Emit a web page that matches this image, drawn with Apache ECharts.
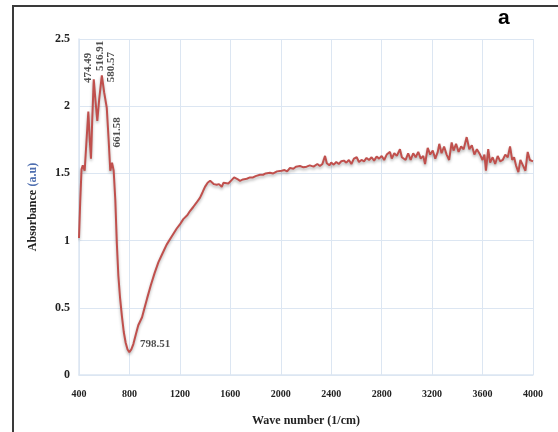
<!DOCTYPE html>
<html>
<head>
<meta charset="utf-8">
<script src="https://cdn.jsdelivr.net/npm/echarts@6/dist/echarts.min.js"></script>
<style>
html,body{margin:0;padding:0;background:#fff;}
#c{width:558px;height:432px;}
</style>
</head>
<body>
<div id="c"></div>
<script>
// Wavenumber (1/cm) and absorbance (a.u)
var wavenumbers = [400,410,420,430,445,460,474,485,495,505,517,530,545,560,581,600,620,635,648,662,675,688,700,712,725,740,755,770,785,799,815,831,850,870,885,900,920,940,970,1000,1030,1060,1095,1135,1175,1200,1227,1260,1280,1306,1330,1360,1380,1399,1420,1440,1455,1470,1492,1510,1532,1545,1560,1584,1610,1630,1645,1660,1677,1700,1730,1756,1780,1800,1835,1860,1880,1914,1940,1970,2007,2030,2050,2073,2100,2120,2152,2180,2205,2230,2260,2290,2310,2330,2351,2365,2385,2400,2420,2440,2460,2480,2500,2520,2540,2560,2580,2602,2620,2640,2660,2680,2700,2720,2740,2760,2780,2800,2820,2840,2866,2880,2900,2920,2945,2960,2975,2990,3010,3030,3050,3070,3090,3110,3130,3144,3165,3185,3205,3225,3245,3257,3275,3295,3315,3335,3355,3370,3390,3410,3430,3450,3474,3495,3515,3535,3555,3580,3600,3615,3627,3645,3660,3680,3700,3720,3740,3760,3780,3800,3818,3835,3850,3865,3884,3900,3920,3940,3958,3975,3990,4000];
var absorbance = [1.02,1.30,1.53,1.56,1.52,1.75,1.96,1.75,1.61,1.90,2.20,2.05,1.89,2.05,2.23,2.10,1.99,1.75,1.52,1.58,1.52,1.30,0.98,0.74,0.58,0.44,0.32,0.24,0.19,0.17,0.19,0.23,0.30,0.37,0.40,0.43,0.50,0.57,0.67,0.76,0.84,0.90,0.97,1.03,1.09,1.12,1.16,1.19,1.22,1.25,1.28,1.32,1.36,1.40,1.43,1.445,1.44,1.42,1.415,1.42,1.40,1.43,1.42,1.425,1.45,1.47,1.48,1.455,1.445,1.455,1.46,1.47,1.47,1.48,1.49,1.49,1.50,1.505,1.50,1.515,1.52,1.525,1.515,1.54,1.535,1.55,1.555,1.545,1.55,1.56,1.55,1.57,1.555,1.57,1.63,1.575,1.56,1.58,1.565,1.585,1.57,1.59,1.595,1.58,1.60,1.57,1.61,1.62,1.585,1.60,1.59,1.615,1.60,1.62,1.595,1.625,1.61,1.63,1.60,1.64,1.66,1.61,1.65,1.63,1.68,1.62,1.63,1.60,1.65,1.60,1.65,1.62,1.66,1.61,1.63,1.57,1.69,1.64,1.67,1.61,1.66,1.72,1.65,1.70,1.64,1.60,1.73,1.67,1.72,1.66,1.70,1.68,1.77,1.68,1.71,1.64,1.68,1.64,1.60,1.64,1.52,1.68,1.58,1.62,1.57,1.63,1.59,1.60,1.64,1.62,1.70,1.60,1.62,1.56,1.51,1.60,1.56,1.52,1.66,1.60,1.60,1.59];

// Peak annotations: text and anchor (data coordinates)
var peakLabels = ['474.49','516.91','580.57','661.58','798.51'];
var peakLabelX = [471,570,654,701,1003];
var peakLabelY = [2.285,2.374,2.29,1.805,0.23];
var peakLabelRotate = [90,90,90,90,0];

var xTicks = [400,800,1200,1600,2000,2400,2800,3200,3600,4000];
var yTicks = [0,0.5,1,1.5,2,2.5];

var lineData = wavenumbers.map(function(x,i){return [x,absorbance[i]];});
var annData = peakLabels.map(function(t,i){
  return {value:[peakLabelX[i],peakLabelY[i]], name:t,
    label:{rotate:peakLabelRotate[i]}};
});

var serif = '"Liberation Serif","DejaVu Serif",serif';
var gridColor = '#dce6f2';

var chart = echarts.init(document.getElementById('c'), null, {renderer:'canvas'});
chart.setOption({
  backgroundColor:'#ffffff',
  animation:false,
  graphic:[
    {type:'rect', shape:{x:13,y:6,width:560,height:440}, style:{fill:'none',stroke:'#3a3a3a',lineWidth:2}},
    {type:'text', left:498, top:8, style:{text:'a', font:'bold 21px "Liberation Sans",Arial,sans-serif', fill:'#000'}}
  ],
  grid:{left:79,right:25,top:39,bottom:55,containLabel:false},
  xAxis:{
    type:'value', min:400, max:4000, interval:400,
    name:'Wave number (1/cm)', nameLocation:'middle', nameGap:40,
    nameTextStyle:{fontFamily:serif,fontWeight:'bold',fontSize:12,color:'#222'},
    axisLine:{show:true,lineStyle:{color:gridColor,width:1.5}},
    axisTick:{show:false},
    axisLabel:{fontFamily:serif,fontWeight:'bold',fontSize:10,color:'#222',margin:14,
      formatter:function(v){return String(v);}},
    splitLine:{show:true,lineStyle:{color:gridColor,width:1}}
  },
  yAxis:{
    type:'value', min:0, max:2.5, interval:0.5,
    name:'{a|Absorbance} {b|(a.u)}', nameLocation:'middle', nameGap:40,
    nameTextStyle:{rich:{
      a:{fontFamily:serif,fontWeight:'bold',fontSize:12,color:'#222'},
      b:{fontFamily:serif,fontWeight:'bold',fontSize:12,color:'#4f6fb0'}
    }},
    axisLine:{show:true,lineStyle:{color:gridColor,width:1.5}},
    axisTick:{show:false},
    axisLabel:{fontFamily:serif,fontWeight:'bold',fontSize:12,color:'#222',margin:9,
      formatter:function(v){return String(v);}},
    splitLine:{show:true,lineStyle:{color:gridColor,width:1}}
  },
  series:[
    {
      type:'line', data:lineData, showSymbol:false, smooth:false,
      lineStyle:{color:'#c0504d',width:2,shadowColor:'rgba(0,0,0,0.3)',shadowBlur:3,shadowOffsetY:2},
      itemStyle:{color:'#c0504d'}, z:3
    },
    {
      type:'scatter', data:annData, symbolSize:0, silent:true,
      label:{show:true,position:'inside',formatter:'{b}',
        fontFamily:serif,fontWeight:'bold',fontSize:11,color:'#222'},
      z:4
    }
  ]
});
</script>
</body>
</html>
